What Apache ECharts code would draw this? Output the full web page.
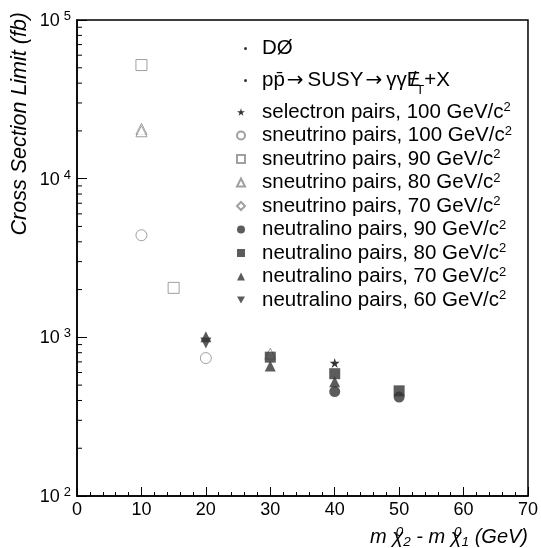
<!DOCTYPE html>
<html><head><meta charset="utf-8">
<script src="https://cdn.jsdelivr.net/npm/echarts@6/dist/echarts.min.js"></script>
<style>html,body{margin:0;padding:0;background:#fff}#c{width:541px;height:548px}</style>
</head><body><div id="c"></div><script>
// ---- data ----
const xTickValues = [0, 10, 20, 30, 40, 50, 60, 70];
const yDecades = [100, 1000, 10000, 100000];
const yMinorTicks = [200,300,400,500,600,700,800,900,2000,3000,4000,5000,6000,7000,8000,9000,20000,30000,40000,50000,60000,70000,80000,90000];
const selectron100 = [[40, 690]];
const sneutrino100 = [[10, 4400], [20, 740]];
const sneutrino90 = [[10, 52000], [15, 2050]];
const sneutrino80 = [[10, 20600], [10, 19900], [30, 790]];
const sneutrino70 = [];
const neutralino90 = [[40, 455], [50, 420]];
const neutralino80 = [[30, 750], [40, 590], [50, 460]];
const neutralino70 = [[20, 1010], [30, 660], [40, 525]];
const neutralino60 = [[20, 920]];
const headerNames = ['DØ', 'pp̄ → SUSY → γγE̸T+X'];
const seriesNames = [
  'selectron pairs, 100 GeV/c', 'sneutrino pairs, 100 GeV/c', 'sneutrino pairs, 90 GeV/c',
  'sneutrino pairs, 80 GeV/c', 'sneutrino pairs, 70 GeV/c', 'neutralino pairs, 90 GeV/c',
  'neutralino pairs, 80 GeV/c', 'neutralino pairs, 70 GeV/c', 'neutralino pairs, 60 GeV/c'];

// ---- styling ----
const FONT = 'Liberation Sans';
const grey = '#888888', dark = '#333333';
const starPath = 'path://M50,0 L61,35 L98,35 L68,57 L79,91 L50,70 L21,91 L32,57 L2,35 L39,35 Z';
const downTri = 'path://M0,0 L10,0 L5,9 Z';
const openStyle = {color: '#ffffff', borderColor: grey, borderWidth: 1};
const fillStyle = {color: dark};
function sc(name, data, symbol, size, style) {
  return {type: 'scatter', name, data, symbol, symbolSize: size, itemStyle: style, z: 5, emphasis: {disabled: true}};
}
const allData = [selectron100, sneutrino100, sneutrino90, sneutrino80, sneutrino70, neutralino90, neutralino80, neutralino70, neutralino60];
const symbols = [starPath, 'circle', 'rect', 'triangle', 'diamond', 'circle', 'rect', 'triangle', downTri];
const sizes = [10, 11, 11, 11, [7, 11], 11, 11, 11, 11];
const styles = [{color: '#000'}, openStyle, openStyle, openStyle, openStyle, fillStyle, fillStyle, fillStyle, fillStyle];

const series = [];
headerNames.forEach(n => series.push({type: 'scatter', name: n, data: [], symbol: 'circle', symbolSize: 2, itemStyle: {color: '#000'}}));
seriesNames.forEach((n, i) => series.push(sc(n, allData[i], symbols[i], sizes[i], styles[i])));
series.push({
  type: 'custom', name: 'yminor', silent: true, clip: false, z: 3,
  data: yMinorTicks.map(v => [0, v]),
  renderItem: (params, api) => {
    const p = api.coord([0, api.value(1)]);
    return {type: 'line', shape: {x1: p[0], y1: p[1], x2: p[0] + 5, y2: p[1]}, style: {stroke: '#000', lineWidth: 1}};
  }
});

const T = {fontFamily: FONT, fontSize: 20.5, color: '#000', lineHeight: 22, verticalAlign: 'middle'};
const chart = echarts.init(document.getElementById('c'));
chart.setOption({
  animation: false,
  backgroundColor: '#fff',
  grid: {left: 77, right: 13, top: 20, bottom: 52, show: true, borderColor: '#000', borderWidth: 1.5},
  xAxis: {
    type: 'value', min: 0, max: 70, interval: 10,
    axisLine: {lineStyle: {color: '#000', width: 1.5}},
    axisTick: {inside: true, length: 9, lineStyle: {color: '#000'}},
    minorTick: {show: true, splitNumber: 5, length: 4, lineStyle: {color: '#000'}},
    splitLine: {show: false},
    axisLabel: {color: '#000', fontFamily: FONT, fontSize: 18, margin: 5,
      customValues: xTickValues}
  },
  yAxis: {
    type: 'log', logBase: 10, min: 100, max: 100000, splitNumber: 3,
    axisLine: {lineStyle: {color: '#000', width: 1.5}},
    axisTick: {inside: true, length: 10, lineStyle: {color: '#000'}},
    splitLine: {show: false},
    axisLabel: {
      margin: 6,
      formatter: v => '{b|10}{s|' + Math.round(Math.log10(v)) + '}',
      rich: {
        b: {fontFamily: FONT, fontSize: 18, color: '#000', lineHeight: 20, verticalAlign: 'bottom'},
        s: {fontFamily: FONT, fontSize: 13, color: '#000', lineHeight: 13, verticalAlign: 'top', padding: [0, 0, 0, 4]}
      }
    }
  },
  legend: [
    {
      orient: 'vertical', left: 239, top: 33, itemWidth: 3, itemHeight: 3, itemGap: 11,
      data: headerNames.map(n => ({name: n, icon: 'circle'})),
      selectedMode: false,
      formatter: n => n === 'DØ' ? '{t|DØ}' : '{t|pp̄}{ar|→}{t|SUSY}{ar|→}{t|γγ}{ez|E}{sl|/}{sub|T}{t|+X}',
      textStyle: {
        padding: [0, 0, 0, 10],
        rich: {
          t: T,
          ar: {fontFamily: 'DejaVu Sans', fontSize: 20, color: '#000', lineHeight: 22, verticalAlign: 'middle', padding: [0, 4, 0, 2]},
          ez: Object.assign({}, T, {width: 0}),
          sl: Object.assign({}, T, {width: 13.7, align: 'center'}),
          sub: {fontFamily: FONT, fontSize: 13, color: '#000', lineHeight: 13, verticalAlign: 'bottom', padding: [0, 0, -5, -4]}
        }
      }
    },
    {
      orient: 'vertical', left: 231, top: 96, itemWidth: 8, itemHeight: 8, itemGap: 2.0,
      data: seriesNames, selectedMode: false,
      formatter: n => '{t|' + n + '}{s|2}',
      textStyle: {
        padding: [0, 0, 0, 12],
        rich: {
          t: T,
          s: {fontFamily: FONT, fontSize: 13, color: '#000', lineHeight: 9, verticalAlign: 'top'}
        }
      }
    }
  ],
  graphic: [
    {
      type: 'text', rotation: Math.PI / 2, x: 20, y: 12,
      style: {text: 'Cross Section Limit (fb)', font: 'italic 21.5px "Liberation Sans"', fill: '#000', align: 'right', verticalAlign: 'middle'}
    },
    {
      type: 'text', x: 528, y: 537,
      style: {
        text: '{i|m χ}{u|0}{d|2}{i| - m χ}{u|0}{d|1}{i| (GeV)}',
        align: 'right', verticalAlign: 'middle',
        rich: {
          i: {font: 'italic 20px "Liberation Sans"', fill: '#000', lineHeight: 24, verticalAlign: 'middle'},
          u: {font: 'italic 13.5px "Liberation Sans"', fill: '#000', lineHeight: 12, verticalAlign: 'top', width: 0},
          d: {font: 'italic 13.5px "Liberation Sans"', fill: '#000', lineHeight: 12, verticalAlign: 'bottom'}
        }
      }
    }
  ],
  series
});
</script></body></html>
